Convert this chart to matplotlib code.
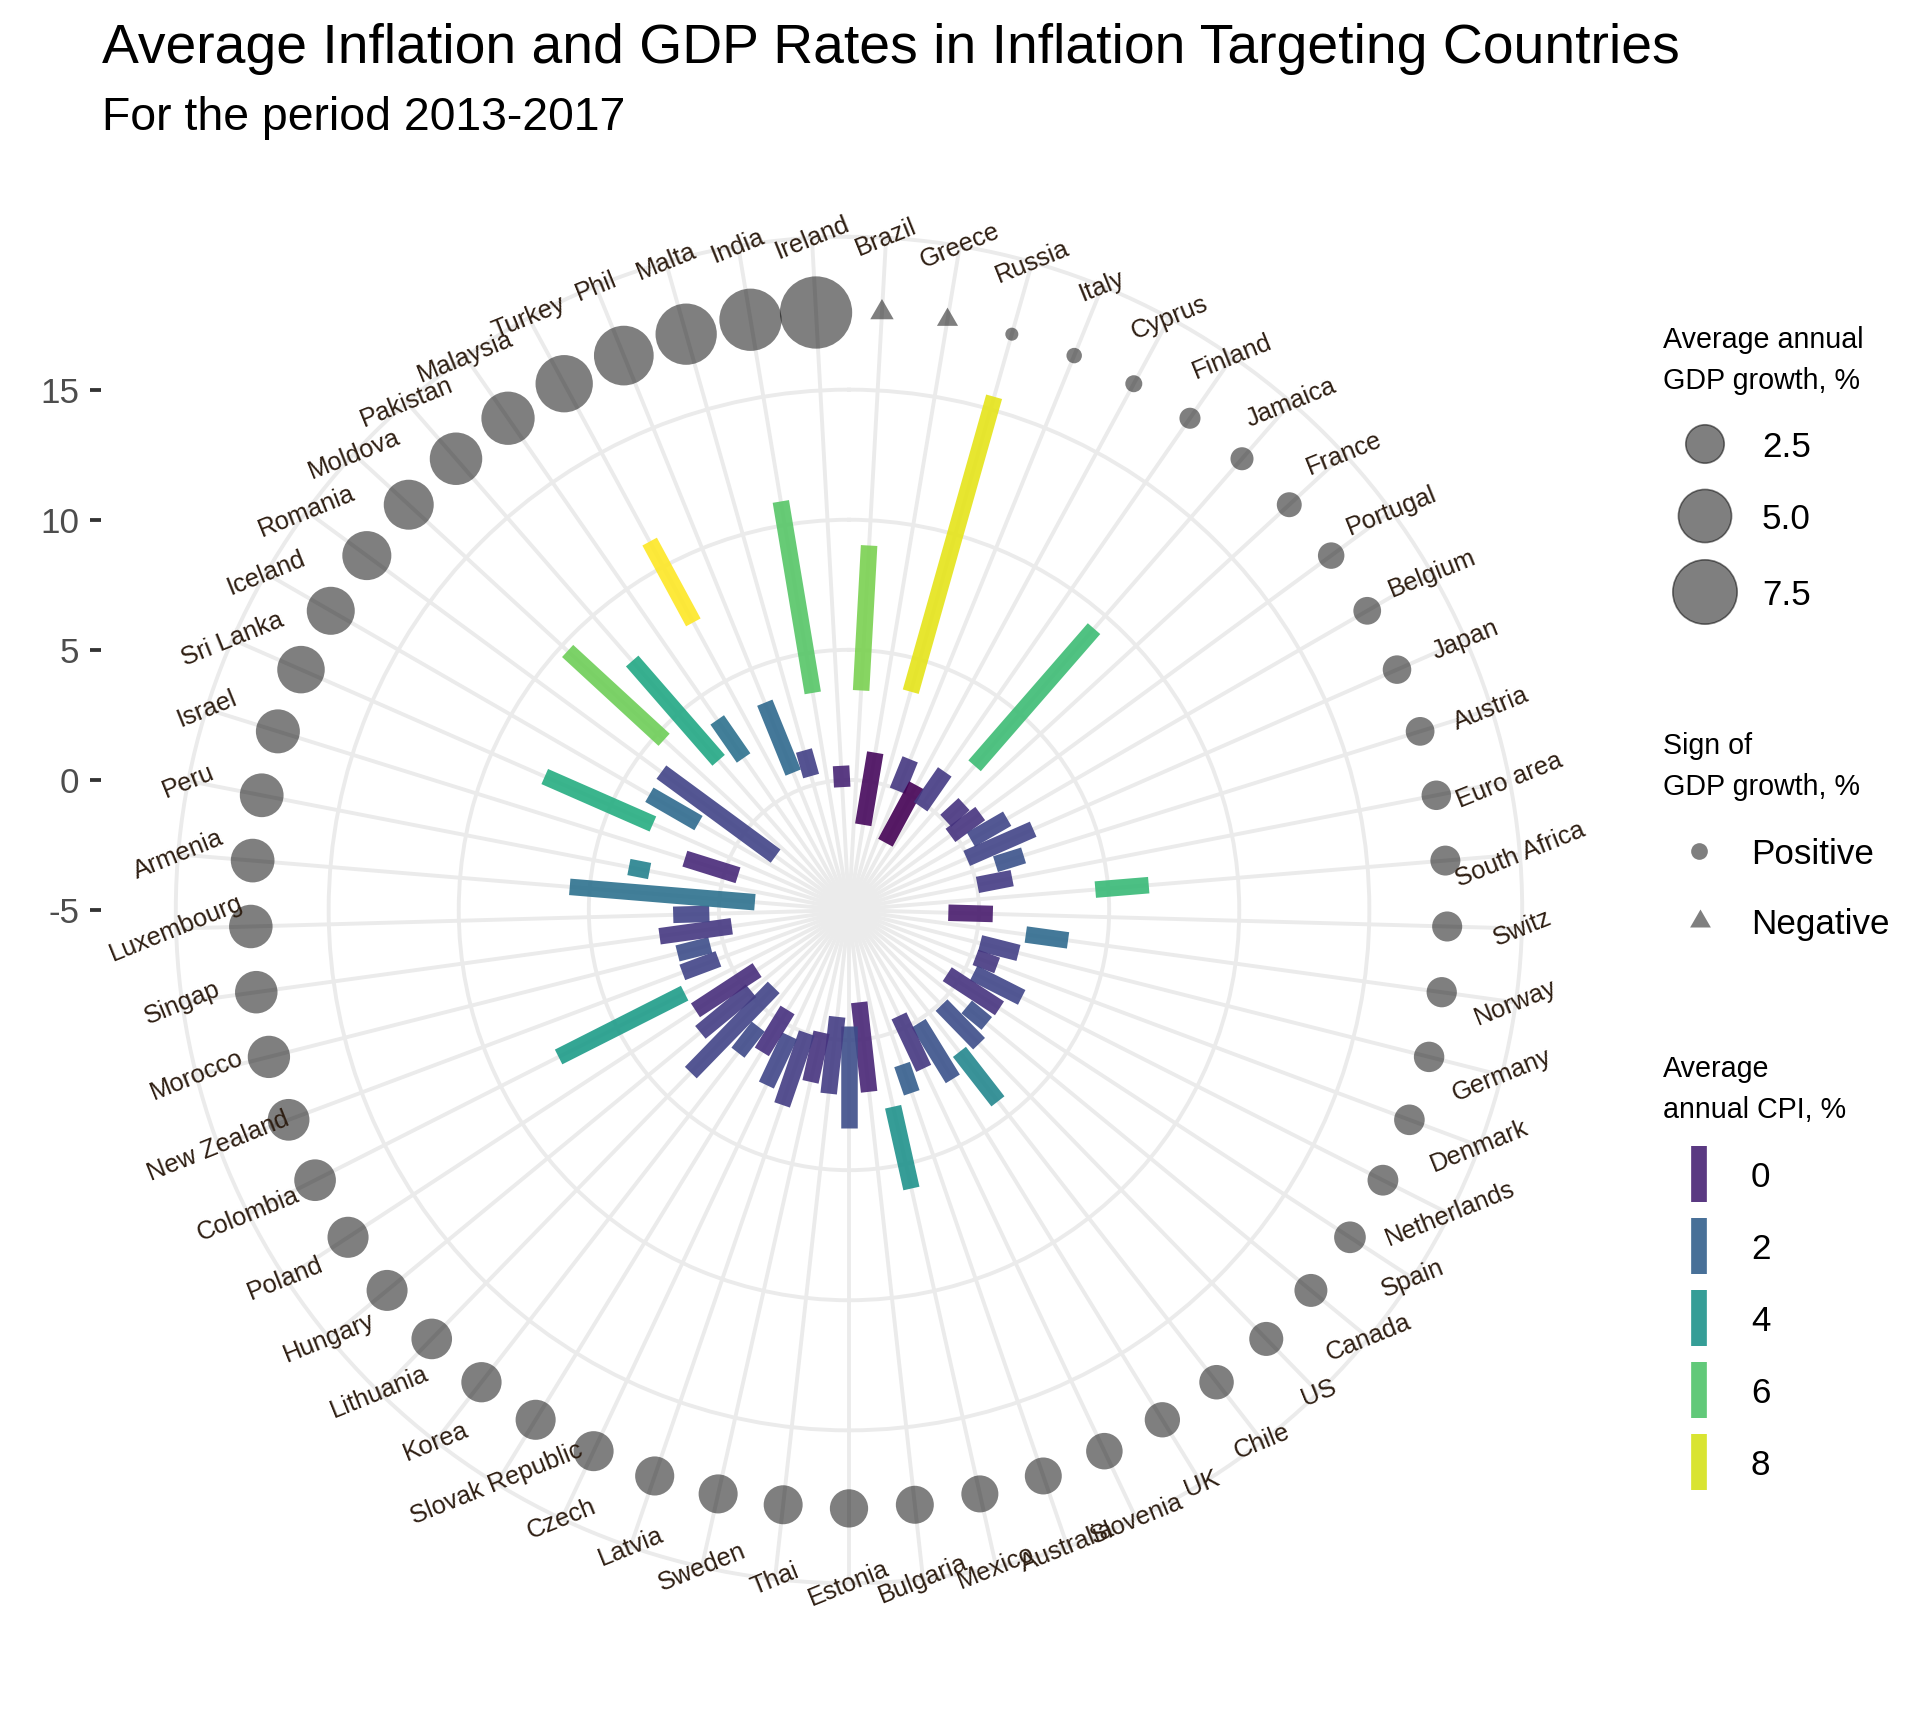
import numpy as np
import matplotlib.pyplot as plt
from matplotlib import colors as mcolors

plt.rcParams['font.family'] = ['Liberation Sans', 'DejaVu Sans']

W, H, DPI = 1929, 1709, 200

#%% data, in the order shown clockwise from the top
countries = ['Brazil', 'Greece', 'Russia', 'Italy', 'Cyprus', 'Finland', 'Jamaica', 'France',
             'Portugal', 'Belgium', 'Japan', 'Austria', 'Euro area', 'South Africa', 'Switz',
             'Norway', 'Germany', 'Denmark', 'Netherlands', 'Spain', 'Canada', 'US', 'Chile',
             'UK', 'Slovenia', 'Australia', 'Mexico', 'Bulgaria', 'Estonia', 'Thai', 'Sweden',
             'Latvia', 'Czech', 'Slovak Republic', 'Korea', 'Lithuania', 'Hungary', 'Poland',
             'Colombia', 'New Zealand', 'Morocco', 'Singap', 'Luxembourg', 'Armenia', 'Peru',
             'Israel', 'Sri Lanka', 'Iceland', 'Romania', 'Moldova', 'Pakistan', 'Malaysia',
             'Turkey', 'Phil', 'Malta', 'India', 'Ireland']

cpi_min = [3.45, -1.68, 3.72, -0.05, -2.06, -0.17, 2.35, 0.06, -0.16, 0.41, -0.06, 0.90,
           0.03, 4.50, -1.18, 1.86, 0.20, 0.19, 0.37, -0.49, 0.86, 0.10, 1.91, 0.11, -0.50,
           1.28, 2.75, -1.43, -0.54, -0.87, -0.18, 0.00, 0.35, -0.49, 0.68, -0.85, -0.12,
           -0.78, 2.08, 0.36, 0.50, -0.45, 0.37, -1.37, 2.81, -0.53, 3.23, 1.68, -1.50, 4.66,
           2.63, 2.11, 7.57, 0.70, 0.35, 3.46, -0.27]
cpi_max = [9.03, 1.13, 15.50, 1.25, 0.45, 1.46, 9.34, 1.01, 1.26, 2.02, 2.73, 2.03, 1.39,
           6.56, 0.53, 3.50, 1.72, 1.08, 2.44, 1.91, 1.86, 2.17, 4.32, 2.62, 1.73, 2.43, 5.97,
           2.03, 3.37, 2.10, 1.77, 2.92, 2.44, 1.40, 1.95, 3.72, 2.40, 2.05, 7.51, 1.84, 1.80,
           2.35, 1.76, 5.77, 3.62, 1.61, 7.77, 3.86, 3.95, 9.70, 7.69, 3.89, 11.10, 3.60,
           1.37, 10.92, 0.55]
cpi_avg = [6.7, -0.7, 8.2, 0.6, -0.9, 0.7, 5.6, 0.5, 0.5, 1.1, 1.0, 1.5, 0.75, 5.5, -0.2,
           2.4, 0.9, 0.6, 1.1, 0.5, 1.4, 1.3, 3.5, 1.5, 0.6, 1.9, 3.9, 0.1, 1.3, 0.8, 0.5,
           0.8, 1.1, 0.4, 1.2, 1.0, 0.8, 0.3, 4.3, 1.0, 1.3, 0.6, 1.0, 2.6, 3.3, 0.2, 5.0,
           2.4, 1.0, 6.5, 4.8, 2.6, 8.6, 2.3, 0.9, 6.1, 0.1]
gdp_avg = [-0.45, -0.35, 0.20, 0.31, 0.39, 0.65, 0.80, 0.96, 1.10, 1.22, 1.30, 1.32, 1.40,
           1.45, 1.46, 1.48, 1.50, 1.52, 1.54, 1.64, 1.79, 1.92, 1.98, 2.08, 2.24, 2.30, 2.31,
           2.44, 2.48, 2.58, 2.59, 2.60, 2.73, 2.74, 2.77, 2.82, 2.88, 2.89, 2.98, 2.99, 3.08,
           3.11, 3.27, 3.30, 3.31, 3.35, 3.95, 4.04, 4.22, 4.40, 4.88, 5.04, 5.88, 6.41, 6.77,
           7.01, 9.57]

r_breaks = [-5, 0, 5, 10, 15]
size_breaks = [2.5, 5.0, 7.5]
cpi_breaks = [0, 2, 4, 6, 8]

#%% scales
R_MIN, R_TOP = -5, 18          # radial range, points sit at the top
R_OUT = R_MIN + (R_TOP - R_MIN) * 0.45 / 0.4
gdp = np.array(gdp_avg)
n = len(countries)
theta = (np.arange(1, n + 1) - 0.5) * 2 * np.pi / n

cmap = plt.get_cmap('viridis')
norm = mcolors.Normalize(vmin=min(cpi_avg), vmax=max(cpi_avg))

def px2pt(px):
    return px * 72 / DPI

def size_px(v):
    return 3 + 22.4 * np.sqrt(np.abs(v))

tri = [(-1, -0.577), (1, -0.577), (0, 1.155)]
grid_col = '#EBEBEB'

fig = plt.figure(figsize=(W / DPI, H / DPI), dpi=DPI)

#%% polar panel
cx, cy, rad = 849, 910, 673.2
ax = fig.add_axes([(cx - rad) / W, (H - cy - rad) / H, 2 * rad / W, 2 * rad / H],
                  projection='polar')
ax.set_theta_zero_location('N')
ax.set_theta_direction(-1)
ax.set_rlim(R_MIN, R_OUT)
ax.set_axisbelow(True)
ax.set_yticks([b for b in r_breaks if b > R_MIN])
ax.set_yticklabels([])
ax.set_xticks(theta)
ax.set_xticklabels([])
ax.tick_params(axis='x', length=0, pad=0)
ax.grid(True, color=grid_col, lw=1.4)
ax.spines['polar'].set_color(grid_col)
ax.spines['polar'].set_linewidth(1.4)

lc = ax.vlines(theta, cpi_min, cpi_max, colors=cmap(norm(cpi_avg)),
               linewidth=px2pt(16.5), alpha=0.9)
lc.set_capstyle('butt')

pos = gdp > 0
ax.scatter(theta[pos], np.full(pos.sum(), R_TOP), s=px2pt(size_px(gdp[pos])) ** 2,
           color='black', alpha=0.5, linewidths=0, zorder=3)
ax.scatter(theta[~pos], np.full((~pos).sum(), R_TOP), s=px2pt(1.5 * size_px(gdp[~pos])) ** 2,
           marker=tri, color='black', alpha=0.5, linewidths=0, zorder=3)

for th, name in zip(theta, countries):
    ax.text(th, R_OUT, name, rotation=22, rotation_mode='anchor', ha='center',
            va='center', fontsize=9.2, color='#2e1e12')

#%% radial axis on the left
side = 1496
yax = fig.add_axes([(cx - side / 2) / W, (H - cy - side / 2) / H, side / W, side / H])
half = (R_TOP - R_MIN) * 0.5 / 0.4
yax.set_ylim(R_MIN - half, R_MIN + half)
yax.set_xticks([])
yax.set_yticks(r_breaks)
yax.set_yticklabels([str(b) for b in r_breaks])
yax.tick_params(axis='y', length=3.85, width=1.37, color='#333333', labelcolor='#4D4D4D',
                labelsize=12.6, pad=4)
yax.patch.set_visible(False)
for sp in yax.spines.values():
    sp.set_visible(False)

#%% titles
fig.text(102 / W, 1 - 62.7 / H, 'Average Inflation and GDP Rates in Inflation Targeting Countries',
         fontsize=19.9, ha='left', va='baseline')
fig.text(102 / W, 1 - 130 / H, 'For the period 2013-2017', fontsize=16.7,
         ha='left', va='baseline')

#%% legends
lax = fig.add_axes([1640 / W, 1 - 1520 / H, 289 / W, 1220 / H])
lax.set_xlim(1640, 1929)
lax.set_ylim(1520, 300)
lax.axis('off')
tx, kx, lx = 1663, 1702, 1751
tfs, lfs = 10.3, 12.6

lax.text(tx, 348, 'Average annual', fontsize=tfs, va='baseline')
lax.text(tx, 389, 'GDP growth, %', fontsize=tfs, va='baseline')
size_y = [444, 516, 592]
lax.scatter([1705] * 3, size_y, s=px2pt(size_px(np.array(size_breaks))) ** 2,
            color='black', alpha=0.5, edgecolors='black', linewidths=0.6)
for y, b in zip(size_y, size_breaks):
    lax.text(1762, y, f'{b:.1f}', fontsize=lfs, va='center_baseline')

lax.text(tx, 754, 'Sign of', fontsize=tfs, va='baseline')
lax.text(tx, 795, 'GDP growth, %', fontsize=tfs, va='baseline')
lax.scatter([1699], [851], s=px2pt(16.7) ** 2, color='black', alpha=0.5, linewidths=0)
lax.scatter([1700], [921], s=px2pt(24) ** 2, marker=tri, color='black', alpha=0.5, linewidths=0)
lax.text(lx, 851, 'Positive', fontsize=lfs, va='center_baseline')
lax.text(lx, 921, 'Negative', fontsize=lfs, va='center_baseline')

lax.text(tx, 1077, 'Average', fontsize=tfs, va='baseline')
lax.text(tx, 1118, 'annual CPI, %', fontsize=tfs, va='baseline')
key_y = np.array([1174, 1246, 1318, 1390, 1462])
kc = lax.vlines([1699] * len(cpi_breaks), key_y - 28, key_y + 28,
                colors=cmap(norm(cpi_breaks)), linewidth=px2pt(15.7), alpha=0.9)
kc.set_capstyle('butt')
for y, b in zip(key_y, cpi_breaks):
    lax.text(lx, y, str(b), fontsize=lfs, va='center_baseline')

fig.savefig('out.png', dpi=DPI, facecolor='white')
